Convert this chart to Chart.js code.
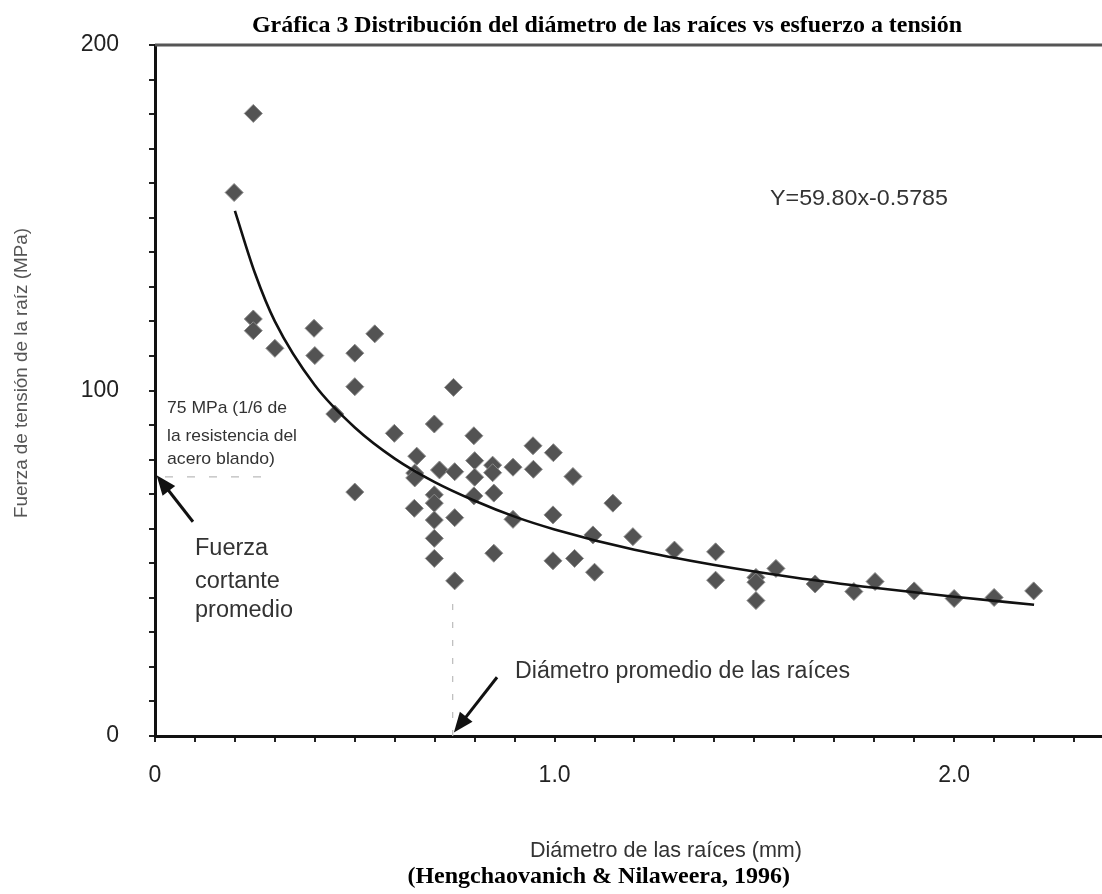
<!DOCTYPE html>
<html><head><meta charset="utf-8">
<script src="https://cdn.jsdelivr.net/npm/chart.js@4/dist/chart.umd.min.js"></script>
<style>html,body{margin:0;padding:0;background:#fff;}#wrap{position:relative;width:1102px;height:894px;}</style>
</head><body><div id="wrap"><canvas id="c" width="1102" height="894"></canvas></div>
<script>
// Measured root data (diameter mm, tensile strength MPa)
const diameters = [0.198,0.246,0.246,0.246,0.30,0.398,0.40,0.45,0.50,0.50,0.50,0.55,0.599,0.655,0.65,0.65,0.649,0.699,0.699,0.699,0.699,0.699,0.699,0.712,0.747,0.75,0.75,0.75,0.798,0.80,0.80,0.798,0.845,0.845,0.848,0.848,0.896,0.896,0.946,0.947,0.997,0.996,0.996,1.046,1.05,1.096,1.10,1.146,1.196,1.30,1.403,1.403,1.504,1.504,1.504,1.554,1.652,1.749,1.802,1.90,2.0,2.10,2.199];
const strengths = [157.3,180.2,120.7,117.3,112.2,118,110.1,93.2,110.8,101.1,70.6,116.4,87.6,81,76.1,74.7,65.9,90.3,69.8,67.4,62.5,57.2,51.4,77,100.9,76.5,63.2,44.9,86.9,79.7,74.9,69.5,78.4,76.2,70.3,52.9,77.8,62.7,84,77.2,82,64,50.7,75.1,51.4,58.2,47.4,67.4,57.7,53.8,53.3,45.1,45.9,44.5,39.2,48.5,44,41.8,44.7,42,39.8,40.1,42];
// Fitted curve
const curveX = [0.2,0.25,0.3,0.4,0.5,0.6,0.7,0.8,0.9,1.0,1.2,1.4,1.6,1.8,2.0,2.2];
const curveY = [152,134,120,101.5,89.3,80.3,73.5,68.1,63.5,59.8,53.9,49.5,45.9,42.9,40.3,38.0];
// Tick labels
const xTickValues = [0,1,2];
const xTickLabels = ['0','1.0','2.0'];
const yTickValues = [0,100,200];
const yTickLabels = ['0','100','200'];
// Annotations (data units)
const arrowCortante = {from:[0.095,62], to:[0.004,75.5]};
const arrowDiametro = {from:[0.856,17], to:[0.748,1]};
const line75 = [[0.025,75],[0.29,75]];
const lineDiam = [[0.745,0],[0.745,39]];

function lab(values, labels){
  return function(v){ for(let i=0;i<values.length;i++){ if(Math.abs(values[i]-v)<1e-6) return labels[i]; } return ''; };
}
function txt(ctx,s,x,y,o){
  ctx.save();
  ctx.font=(o.weight||'normal')+' '+o.size+'px '+(o.family||'"Liberation Sans"');
  ctx.fillStyle=o.color||'#333';
  ctx.textBaseline='alphabetic';
  ctx.textAlign=o.align||'left';
  ctx.translate(x,y);
  if(o.rot) ctx.rotate(o.rot);
  if(o.w){ const m=ctx.measureText(s).width; ctx.scale(o.w/m,1); }
  ctx.fillText(s,0,0);
  ctx.restore();
}
function arrow(ctx,x1,y1,x2,y2){
  const a=Math.atan2(y2-y1,x2-x1), L=20, W=8;
  ctx.save();
  ctx.strokeStyle='#111'; ctx.fillStyle='#111'; ctx.lineWidth=3;
  ctx.beginPath(); ctx.moveTo(x1,y1); ctx.lineTo(x2-Math.cos(a)*L*0.8,y2-Math.sin(a)*L*0.8); ctx.stroke();
  ctx.beginPath();
  ctx.moveTo(x2,y2);
  ctx.lineTo(x2-Math.cos(a)*L-Math.sin(a)*W, y2-Math.sin(a)*L+Math.cos(a)*W);
  ctx.lineTo(x2-Math.cos(a)*L+Math.sin(a)*W, y2-Math.sin(a)*L-Math.cos(a)*W);
  ctx.closePath(); ctx.fill();
  ctx.restore();
}
const deco = {
  id:'deco',
  afterDatasetsDraw(chart){
    const ctx=chart.ctx, xs=chart.scales.x, ys=chart.scales.y, ca=chart.chartArea;
    const P=(p)=>[xs.getPixelForValue(p[0]), ys.getPixelForValue(p[1])];
    // top border
    ctx.save(); ctx.strokeStyle='#555'; ctx.lineWidth=3;
    ctx.beginPath(); ctx.moveTo(ca.left,ca.top); ctx.lineTo(ca.right,ca.top); ctx.stroke();
    // dashed reference lines
    ctx.strokeStyle='#bbb'; ctx.lineWidth=1.2; ctx.setLineDash([8,14]);
    let a=P(line75[0]), b=P(line75[1]);
    ctx.beginPath(); ctx.moveTo(a[0],a[1]); ctx.lineTo(b[0],b[1]); ctx.stroke();
    a=P(lineDiam[0]); b=P(lineDiam[1]);
    ctx.setLineDash([6,12]);
    ctx.beginPath(); ctx.moveTo(a[0],a[1]); ctx.lineTo(b[0],b[1]); ctx.stroke();
    ctx.restore();
    // arrows
    a=P(arrowCortante.from); b=P(arrowCortante.to); arrow(ctx,a[0],a[1],b[0],b[1]);
    a=P(arrowDiametro.from); b=P(arrowDiametro.to); arrow(ctx,a[0],a[1],b[0],b[1]);
    // texts
    txt(ctx,'Gráfica 3 Distribución del diámetro de las raíces vs esfuerzo a tensión',252,32,{size:24,weight:'bold',family:'"Liberation Serif"',color:'#000',w:710});
    txt(ctx,'Fuerza de tensión de la raíz (MPa)',27,373,{size:18,rot:-Math.PI/2,align:'center',color:'#555',w:290});
    txt(ctx,'Y=59.80x-0.5785',770,205,{size:22,color:'#333',w:178});
    txt(ctx,'75 MPa (1/6 de',167,413,{size:17,color:'#333',w:120});
    txt(ctx,'la resistencia del',167,441,{size:17,color:'#333',w:130});
    txt(ctx,'acero blando)',167,464,{size:17,color:'#333',w:108});
    txt(ctx,'Fuerza',195,555,{size:23.5,color:'#333'});
    txt(ctx,'cortante',195,588,{size:23.5,color:'#333'});
    txt(ctx,'promedio',195,617,{size:23.5,color:'#333'});
    txt(ctx,'Diámetro promedio de las raíces',515,678,{size:23,color:'#333',w:335});
    txt(ctx,'Diámetro de las raíces (mm)',530,857,{size:22,color:'#333',w:272});
    txt(ctx,'(Hengchaovanich & Nilaweera, 1996)',790,883,{size:24,weight:'bold',family:'"Liberation Serif"',color:'#000',align:'right'});
  }
};
new Chart(document.getElementById('c'),{
  type:'scatter',
  data:{datasets:[
    {label:'ajuste',data:curveX.map((x,i)=>({x:x,y:curveY[i]})),showLine:true,borderColor:'#111',borderWidth:2.6,pointRadius:0,tension:0.4,cubicInterpolationMode:'monotone',fill:false,order:0},
    {label:'raíces',data:diameters.map((d,i)=>({x:d,y:strengths[i]})),pointStyle:'rectRot',pointRadius:9,backgroundColor:'#535353',borderColor:'#8a8a8a',borderWidth:1,order:1}
  ]},
  options:{
    responsive:false,animation:false,devicePixelRatio:1,
    layout:{autoPadding:false,padding:{top:45,left:0,right:0,bottom:0}},
    plugins:{legend:{display:false},title:{display:false},tooltip:{enabled:false}},
    scales:{
      x:{type:'linear',min:0,max:2.37,afterFit(s){s.height=158;},
        ticks:{stepSize:0.1,includeBounds:false,autoSkip:false,maxRotation:0,minRotation:0,callback:lab(xTickValues,xTickLabels),font:{family:'"Liberation Sans"',size:23},color:'#222',padding:20},
        grid:{display:true,drawOnChartArea:false,drawTicks:true,tickLength:6,color:'#222',lineWidth:2},
        border:{display:true,color:'#111',width:3}},
      y:{type:'linear',min:0,max:200,afterFit(s){s.width=155;},
        ticks:{stepSize:10,includeBounds:false,autoSkip:false,callback:lab(yTickValues,yTickLabels),font:{family:'"Liberation Sans"',size:23},color:'#222',padding:30},
        grid:{display:true,drawOnChartArea:false,drawTicks:true,tickLength:6,color:'#222',lineWidth:2},
        border:{display:true,color:'#111',width:3}}
    }
  },
  plugins:[deco]
});
</script></body></html>
